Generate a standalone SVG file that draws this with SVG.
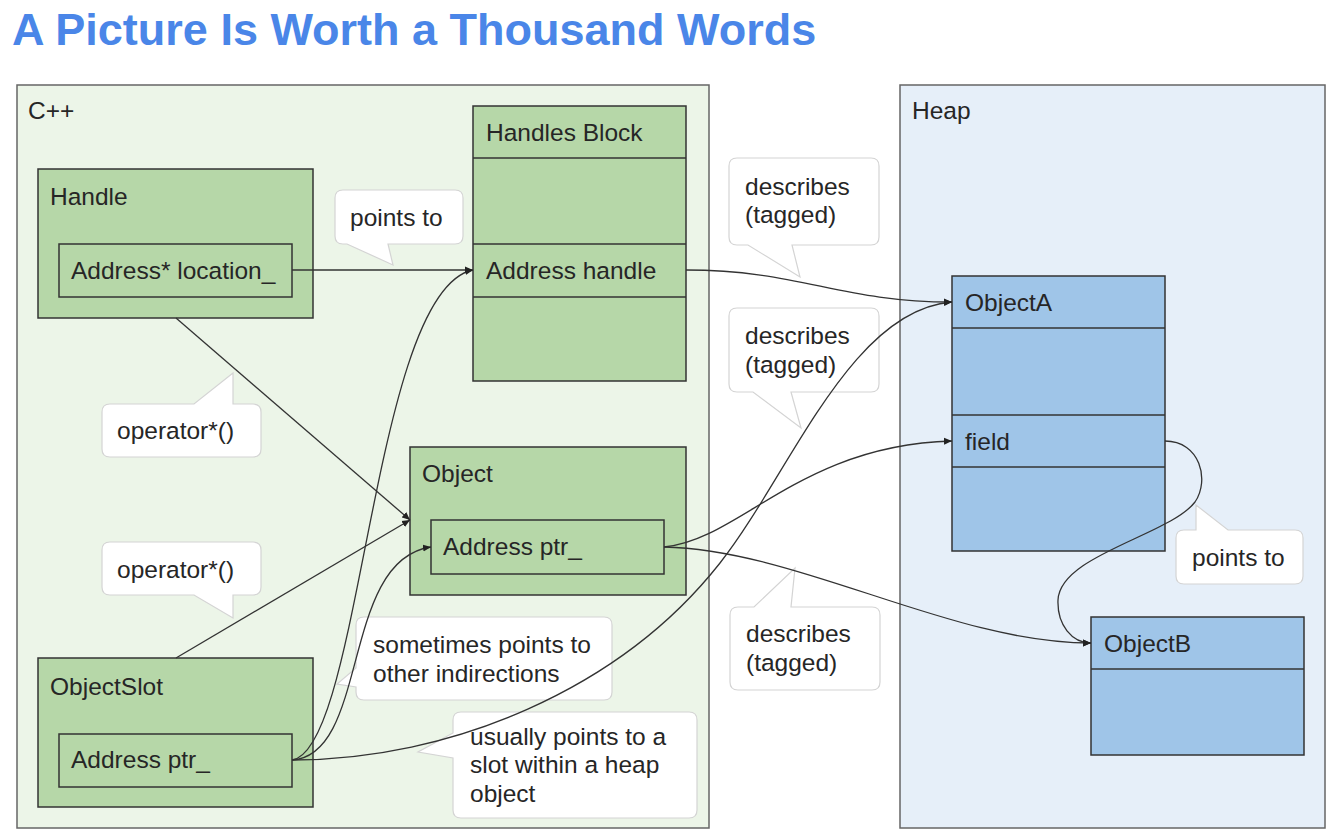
<svg xmlns="http://www.w3.org/2000/svg" width="1342" height="840" viewBox="0 0 1342 840">
<defs>
<style>
.t{font-family:"Liberation Sans",Arial,sans-serif;font-size:24.5px;fill:#262626}
.title{font-family:"Liberation Sans",Arial,sans-serif;font-size:45px;font-weight:bold;fill:#4a86e8}
.cont{stroke:#666;stroke-width:1.5}
.g{fill:#b6d7a8;stroke:#333;stroke-width:1.5}
.b{fill:#9fc5e8;stroke:#333;stroke-width:1.5}
.bub{fill:#fff;stroke:#d4d4d4;stroke-width:1.2}
.c{fill:none;stroke:#333;stroke-width:1.3}
.ca{fill:none;stroke:#333;stroke-width:1.3;marker-end:url(#arr)}
</style>
<marker id="arr" markerUnits="userSpaceOnUse" markerWidth="9" markerHeight="8" refX="8" refY="4" orient="auto">
<path d="M0,0.5 L8,4 L0,7.5 Z" fill="#222"/>
</marker>
</defs>
<rect width="1342" height="840" fill="#fff"/>
<text class="title" x="12" y="45">A Picture Is Worth a Thousand Words</text>

<g id="cpp">
<rect class="cont" x="17" y="85" width="692" height="743" fill="#ecf5e8"/>
<text class="t" x="28" y="119">C++</text>
</g>
<g id="heap">
<rect class="cont" x="900" y="85" width="425" height="743" fill="#e6eff9"/>
<text class="t" x="912" y="119">Heap</text>
</g>

<g id="handle">
<rect class="g" x="38" y="169" width="275" height="149"/>
<text class="t" x="50" y="205">Handle</text>
<rect class="g" x="59" y="244" width="233" height="53"/>
<text class="t" x="71" y="279">Address* location_</text>
</g>

<g id="handles-block">
<rect class="g" x="473" y="106" width="213" height="275"/>
<line class="g" x1="473" y1="158" x2="686" y2="158"/>
<line class="g" x1="473" y1="244" x2="686" y2="244"/>
<line class="g" x1="473" y1="297" x2="686" y2="297"/>
<text class="t" x="486" y="141">Handles Block</text>
<text class="t" x="486" y="279">Address handle</text>
</g>

<g id="object">
<rect class="g" x="410" y="447" width="276" height="148"/>
<text class="t" x="422" y="482">Object</text>
<rect class="g" x="431" y="520" width="233" height="54"/>
<text class="t" x="443" y="555">Address ptr_</text>
</g>

<g id="objectslot">
<rect class="g" x="38" y="658" width="275" height="149"/>
<text class="t" x="50" y="695">ObjectSlot</text>
<rect class="g" x="59" y="734" width="233" height="53"/>
<text class="t" x="71" y="768">Address ptr_</text>
</g>

<g id="objecta">
<rect class="b" x="952" y="276" width="213" height="275"/>
<line class="b" x1="952" y1="328" x2="1165" y2="328"/>
<line class="b" x1="952" y1="415" x2="1165" y2="415"/>
<line class="b" x1="952" y1="467" x2="1165" y2="467"/>
<text class="t" x="965" y="311">ObjectA</text>
<text class="t" x="965" y="450">field</text>
</g>

<g id="objectb">
<rect class="b" x="1091" y="617" width="213" height="138"/>
<line class="b" x1="1091" y1="669" x2="1304" y2="669"/>
<text class="t" x="1104" y="652">ObjectB</text>
</g>

<g id="callouts">
<g id="callout-points-to-1">
<path class="bub" d="M343,190 H455 Q463,190 463,198 V236 Q463,244 455,244 H388 L393,265 L347,244 H343 Q335,244 335,236 V198 Q335,190 343,190 Z"/>
<text class="t" x="350" y="226">points to</text>
</g>
<g id="callout-operator-1">
<path class="bub" d="M110,404 H194 L233,373 V404 H253 Q261,404 261,412 V449 Q261,457 253,457 H110 Q102,457 102,449 V412 Q102,404 110,404 Z"/>
<text class="t" x="117" y="439">operator*()</text>
</g>
<g id="callout-operator-2">
<path class="bub" d="M110,542 H253 Q261,542 261,550 V587 Q261,595 253,595 H233 V618 L194,595 H110 Q102,595 102,587 V550 Q102,542 110,542 Z"/>
<text class="t" x="117" y="578">operator*()</text>
</g>
<g id="callout-sometimes">
<path class="bub" d="M364,617 H604 Q612,617 612,625 V692 Q612,700 604,700 H364 Q356,700 356,692 V687 L337,684 L356,668 V625 Q356,617 364,617 Z"/>
<text class="t" x="373" y="653">sometimes points to</text>
<text class="t" x="373" y="682">other indirections</text>
</g>
<g id="callout-usually">
<path class="bub" d="M461,712 H689 Q697,712 697,720 V810 Q697,818 689,818 H461 Q453,818 453,810 V758 L418,752 L453,733 V720 Q453,712 461,712 Z"/>
<text class="t" x="470" y="745">usually points to a</text>
<text class="t" x="470" y="773">slot within a heap</text>
<text class="t" x="470" y="802">object</text>
</g>
<g id="callout-describes-1">
<path class="bub" d="M737,158 H871 Q879,158 879,166 V237 Q879,245 871,245 H792 L800,277 L748,245 H737 Q729,245 729,237 V166 Q729,158 737,158 Z"/>
<text class="t" x="745" y="195">describes</text>
<text class="t" x="745" y="223">(tagged)</text>
</g>
<g id="callout-describes-2">
<path class="bub" d="M737,308 H871 Q879,308 879,316 V384 Q879,392 871,392 H791 L801,428 L753,392 H737 Q729,392 729,384 V316 Q729,308 737,308 Z"/>
<text class="t" x="745" y="344">describes</text>
<text class="t" x="745" y="373">(tagged)</text>
</g>
<g id="callout-describes-3">
<path class="bub" d="M738,607 H754 L795,568 L791,607 H872 Q880,607 880,615 V682 Q880,690 872,690 H738 Q730,690 730,682 V615 Q730,607 738,607 Z"/>
<text class="t" x="746" y="642">describes</text>
<text class="t" x="746" y="671">(tagged)</text>
</g>
<g id="callout-points-to-2">
<path class="bub" d="M1184,530 H1196 V505 L1228,530 H1295 Q1303,530 1303,538 V576 Q1303,584 1295,584 H1184 Q1176,584 1176,576 V538 Q1176,530 1184,530 Z"/>
<text class="t" x="1192" y="566">points to</text>
</g>
</g>

<g id="connectors">
<path class="ca" d="M292,270 L473,270"/>
<path class="ca" d="M176,318 L410,520"/>
<path class="ca" d="M176,658 L410,520"/>
<path class="ca" d="M292,760 C362,750 372,290 473,270"/>
<path class="ca" d="M292,760 C370,755 340,560 431,547"/>
<path class="ca" d="M292,760 C450,760 620,690 720,563 C790,474 850,310 952,302"/>
<path class="ca" d="M686,270 C800,270 840,302 952,302"/>
<path class="ca" d="M664,547 C740,540 800,445 952,441"/>
<path class="ca" d="M664,547 C800,550 950,643 1091,643"/>
<path class="ca" d="M1165,441 C1200,441 1210,480 1195,502 C1170,535 1060,555 1058,600 C1057,625 1072,643 1091,643"/>
</g>
</svg>
